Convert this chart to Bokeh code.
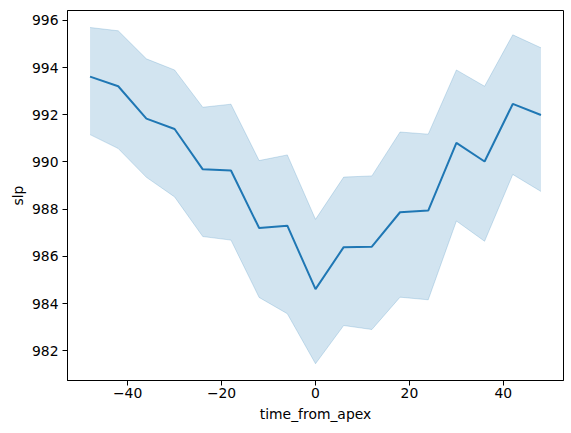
from bokeh.plotting import figure
from bokeh.models import FixedTicker, Range1d
from bokeh.embed import file_html
from bokeh.resources import INLINE

time_from_apex = [-48, -42, -36, -30, -24, -18, -12, -6, 0, 6, 12, 18, 24, 30, 36, 42, 48]
slp_mean = [993.62, 993.21, 991.84, 991.40, 989.69, 989.64, 987.20, 987.30, 984.61,
            986.39, 986.41, 987.87, 987.94, 990.81, 990.02, 992.46, 991.99]
slp_upper = [995.70, 995.56, 994.37, 993.90, 992.32, 992.45, 990.06, 990.30, 987.57,
             989.36, 989.41, 991.27, 991.18, 993.90, 993.21, 995.39, 994.84]
slp_lower = [991.16, 990.57, 989.35, 988.52, 986.84, 986.69, 984.26, 983.57, 981.45,
             983.07, 982.90, 984.27, 984.16, 987.50, 986.64, 989.47, 988.75]

x_ticks = [-40, -20, 0, 20, 40]
y_ticks = [982, 984, 986, 988, 990, 992, 994, 996]

color = "#1f77b4"
font = "DejaVu Sans"
fs = "13.9px"

p = figure(width=564, height=428, output_backend="svg", toolbar_location=None,
           x_range=Range1d(-52.8, 52.8), y_range=Range1d(980.74, 996.42),
           min_border_left=67, min_border_top=10, min_border_right=1, min_border_bottom=48)
p.background_fill_color = "white"
p.border_fill_color = "white"
p.outline_line_color = "black"
p.outline_line_width = 1
p.xgrid.visible = False
p.ygrid.visible = False

p.varea(x=time_from_apex, y1=slp_lower, y2=slp_upper, fill_color=color, fill_alpha=0.2)
p.line(time_from_apex, slp_upper, line_color=color, line_alpha=0.2, line_width=1)
p.line(time_from_apex, slp_lower, line_color=color, line_alpha=0.2, line_width=1)
p.line(time_from_apex, slp_mean, line_color=color, line_width=2)

for ax, ticks in ((p.xaxis, x_ticks), (p.yaxis, y_ticks)):
    ax.ticker = FixedTicker(ticks=ticks)
    ax.minor_tick_line_color = None
    ax.major_tick_in = 0
    ax.major_tick_out = 5
    ax.major_tick_line_color = "black"
    ax.axis_line_color = "black"
    ax.major_label_text_font = font
    ax.major_label_text_font_size = fs
    ax.major_label_text_color = "black"
    ax.axis_label_text_font = font
    ax.axis_label_text_font_size = fs
    ax.axis_label_text_font_style = "normal"
    ax.axis_label_text_color = "black"
    ax.major_label_standoff = 4

p.xaxis.major_label_standoff = 2
p.xaxis.major_label_overrides = {t: (str(t).replace("-", "\u2212")) for t in x_ticks}
p.xaxis.axis_label = "time_from_apex"
p.yaxis.axis_label = "slp"
p.xaxis.axis_label_standoff = 5
p.yaxis.axis_label_standoff = 3

open("out.html", "w").write(file_html(p, INLINE))
